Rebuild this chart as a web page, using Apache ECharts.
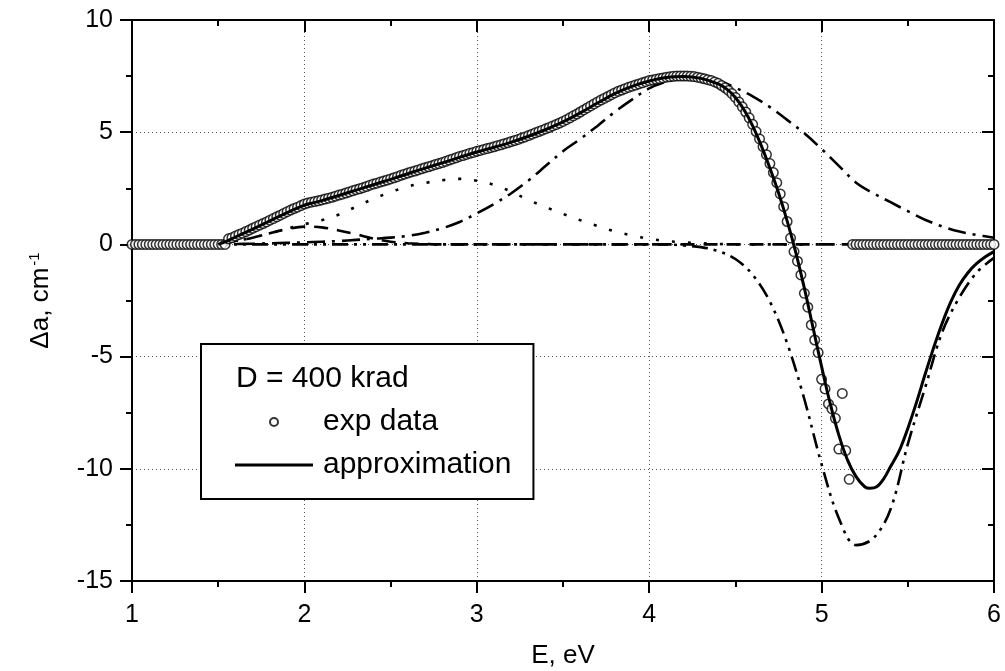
<!DOCTYPE html>
<html>
<head>
<meta charset="utf-8">
<script src="https://cdn.jsdelivr.net/npm/echarts@6/dist/echarts.min.js"></script>
<style>
  html, body { margin: 0; padding: 0; background: #fff; }
  #chart { width: 1005px; height: 671px; }
</style>
</head>
<body>
<div id="chart"></div>
<script>
// ---- data ----
// experimental points, E from 1.00 eV with 0.02 eV step
const expStart = 1.0, expStep = 0.02;
const expY = [
  0, 0, 0, 0, 0, 0, 0, 0, 0, 0,                                   // 1.00
  0, 0, 0, 0, 0, 0, 0, 0, 0, 0,                                   // 1.20
  0, 0, 0, 0, 0, 0, 0, 0, 0.25, 0.30,                             // 1.40
  0.37, 0.44, 0.50, 0.57, 0.64, 0.72, 0.79, 0.86, 0.93, 1.00,     // 1.60
  1.08, 1.15, 1.23, 1.30, 1.38, 1.46, 1.53, 1.60, 1.66, 1.73,     // 1.80
  1.80, 1.85, 1.88, 1.91, 1.94, 1.98, 2.02, 2.06, 2.10, 2.15,     // 2.00
  2.20, 2.24, 2.29, 2.34, 2.39, 2.44, 2.48, 2.53, 2.58, 2.64,     // 2.20
  2.69, 2.73, 2.78, 2.82, 2.87, 2.92, 2.97, 3.02, 3.08, 3.13,     // 2.40
  3.18, 3.23, 3.27, 3.32, 3.37, 3.42, 3.46, 3.51, 3.56, 3.60,     // 2.60
  3.65, 3.70, 3.76, 3.81, 3.86, 3.92, 3.96, 4.01, 4.06, 4.10,     // 2.80
  4.15, 4.19, 4.23, 4.27, 4.31, 4.35, 4.40, 4.44, 4.49, 4.53,     // 3.00
  4.58, 4.63, 4.68, 4.74, 4.79, 4.85, 4.91, 4.97, 5.03, 5.09,     // 3.20
  5.15, 5.21, 5.28, 5.34, 5.41, 5.48, 5.56, 5.64, 5.73, 5.81,     // 3.40
  5.90, 5.99, 6.08, 6.17, 6.26, 6.35, 6.43, 6.51, 6.59, 6.67,     // 3.60
  6.75, 6.82, 6.88, 6.94, 7.00, 7.05, 7.10, 7.15, 7.20, 7.25,     // 3.80
  7.30, 7.33, 7.36, 7.39, 7.42, 7.45, 7.47, 7.49, 7.50, 7.50,     // 4.00
  7.50, 7.50, 7.49, 7.48, 7.45, 7.42, 7.38, 7.34, 7.30, 7.24,     // 4.20
  7.18, 7.08, 6.98, 6.86, 6.72, 6.55, 6.35, 6.13, 5.90, 5.64,     // 4.40
  5.35, 5.03, 4.70, 4.36, 4.00, 3.60, 3.20, 2.75, 2.25, 1.68,     // 4.60
  1.02, 0.28, -0.32, -0.75, -1.36, -2.18, -2.80, -3.59, -4.26, -4.82, // 4.80
  -6.01, -6.44, -7.11, -7.33, -7.75, -9.12, -6.64, -9.19, -10.47, 0,  // 5.00
  0, 0, 0, 0, 0, 0, 0, 0, 0, 0,                                   // 5.20
  0, 0, 0, 0, 0, 0, 0, 0, 0, 0,                                   // 5.40
  0, 0, 0, 0, 0, 0, 0, 0, 0, 0,                                   // 5.60
  0, 0, 0, 0, 0, 0, 0, 0, 0, 0,                                   // 5.80
  0                                                               // 6.00
];

// approximation (sum of the bands)
const approxX = [1.50, 1.55, 1.60, 1.70, 1.80, 1.90, 2.00, 2.05, 2.10, 2.20,
  2.30, 2.40, 2.50, 2.60, 2.70, 2.80, 2.90, 3.00, 3.10, 3.20,
  3.30, 3.40, 3.50, 3.60, 3.70, 3.80, 3.90, 4.00, 4.10, 4.20,
  4.30, 4.40, 4.45, 4.50, 4.55, 4.60, 4.65, 4.70, 4.75, 4.80,
  4.85, 4.90, 4.95, 5.00, 5.05, 5.10, 5.15, 5.20, 5.25, 5.28,
  5.32, 5.36, 5.40, 5.45, 5.50, 5.55, 5.60, 5.65, 5.70, 5.75,
  5.80, 5.85, 5.90, 5.95, 6.00];
const approxY = [0.00, 0.15, 0.33, 0.68, 1.05, 1.42, 1.75, 1.85, 1.95, 2.18,
  2.42, 2.66, 2.90, 3.15, 3.40, 3.63, 3.88, 4.12, 4.33, 4.56,
  4.82, 5.12, 5.46, 5.86, 6.30, 6.72, 7.04, 7.28, 7.44, 7.48,
  7.40, 7.15, 6.92, 6.55, 6.00, 5.28, 4.40, 3.40, 2.30, 1.05,
  -0.35, -1.95, -3.70, -5.45, -7.10, -8.50, -9.60, -10.35, -10.80, -10.87,
  -10.80, -10.45, -9.90, -9.20, -8.20, -7.05, -5.80, -4.60, -3.50, -2.55,
  -1.80, -1.25, -0.85, -0.55, -0.32];

// individual bands, E from 1.0 eV with 0.1 eV step
const bandStart = 1.0, bandStep = 0.1;
const bandDashed = [0, 0, 0, 0, 0, 0.02, 0.15, 0.30, 0.50, 0.68,
  0.79, 0.76, 0.62, 0.45, 0.26, 0.12, 0.05, 0.02, 0, 0,
  0, 0, 0, 0, 0, 0, 0, 0, 0, 0,
  0, 0, 0, 0, 0, 0, 0, 0, 0, 0,
  0, 0, 0, 0, 0, 0, 0, 0, 0, 0, 0];
const bandDotted = [0, 0, 0, 0, 0, 0.05, 0.15, 0.30, 0.50, 0.70,
  0.90, 1.08, 1.33, 1.68, 2.03, 2.33, 2.58, 2.74, 2.86, 2.92,
  2.84, 2.65, 2.35, 1.98, 1.66, 1.36, 1.08, 0.82, 0.58, 0.40,
  0.25, 0.15, 0.09, 0.05, 0.02, 0, 0, 0, 0, 0,
  0, 0, 0, 0, 0, 0, 0, 0, 0, 0, 0];
const bandDashDot = [0, 0, 0, 0, 0, 0.01, 0.02, 0.03, 0.05, 0.07,
  0.09, 0.12, 0.15, 0.20, 0.25, 0.30, 0.38, 0.52, 0.72, 1.00,
  1.38, 1.80, 2.28, 2.85, 3.50, 4.15, 4.70, 5.28, 5.90, 6.45,
  6.95, 7.25, 7.42, 7.48, 7.32, 6.98, 6.60, 6.12, 5.55, 4.95,
  4.25, 3.50, 2.75, 2.28, 1.88, 1.48, 1.10, 0.80, 0.57, 0.42, 0.30];
const bandDashDotDot = [0, 0, 0, 0, 0, 0, 0, 0, 0, 0,
  0, 0, 0, 0, 0, 0, 0, 0, 0, 0,
  0, 0, 0, 0, 0, 0, 0, 0, 0, 0,
  0, 0, -0.05, -0.12, -0.30, -0.65, -1.35, -2.55, -4.40, -6.90,
  -9.80, -12.20, -13.40, -13.10, -11.80, -8.90, -6.40, -3.90, -2.35, -1.25, -0.60];

const xTicks = { min: 1, max: 6, interval: 1 };
const yTicks = { min: -15, max: 10, interval: 5 };

// ---- helpers ----
const FONT = "'Liberation Sans', Arial, Helvetica, sans-serif";
const pairs = (start, step, ys) => ys.map((y, i) => [+(start + i * step).toFixed(3), y]);
const zip = (xs, ys) => xs.map((x, i) => [x, ys[i]]);

function band(name, data, dash) {
  return {
    name: name,
    type: 'line',
    data: data,
    showSymbol: false,
    smooth: 0.35,
    z: 2,
    lineStyle: { color: '#000', width: 2.6, type: dash, cap: 'butt' },
    silent: true
  };
}

const black = { color: '#000', width: 2 };

const chart = echarts.init(document.getElementById('chart'), null, { renderer: 'canvas' });
chart.setOption({
  animation: false,
  backgroundColor: '#fff',
  textStyle: { fontFamily: FONT },
  grid: { left: 132, right: 11, top: 20, bottom: 90, containLabel: false, outerBoundsMode: 'none' },
  xAxis: [
    {
      type: 'value', position: 'bottom',
      min: xTicks.min, max: xTicks.max, interval: xTicks.interval,
      axisLine: { onZero: false, lineStyle: black },
      axisTick: { inside: false, length: 12, lineStyle: black },
      minorTick: { show: true, splitNumber: 2, length: 6, lineStyle: black },
      splitLine: { show: true, lineStyle: { color: '#555', width: 1, type: [1, 3] } },
      axisLabel: { fontSize: 25, color: '#000', margin: 22, fontFamily: FONT },
      name: 'E, eV', nameLocation: 'middle', nameGap: 62,
      nameTextStyle: { fontSize: 26, color: '#000', fontFamily: FONT }
    },
    {
      type: 'value', position: 'top',
      min: xTicks.min, max: xTicks.max, interval: xTicks.interval,
      axisLine: { onZero: false, lineStyle: black },
      axisTick: { inside: true, length: 12, lineStyle: black },
      minorTick: { show: true, splitNumber: 2, length: 6, lineStyle: black },
      splitLine: { show: false },
      axisLabel: { show: false }
    }
  ],
  yAxis: [
    {
      type: 'value', position: 'left',
      min: yTicks.min, max: yTicks.max, interval: yTicks.interval,
      axisLine: { onZero: false, lineStyle: black },
      axisTick: { inside: false, length: 12, lineStyle: black },
      minorTick: { show: true, splitNumber: 2, length: 6, lineStyle: black },
      splitLine: { show: true, lineStyle: { color: '#555', width: 1, type: [1, 3] } },
      axisLabel: { fontSize: 25, color: '#000', margin: 19, fontFamily: FONT },
      name: 'Δa, cm{sup|-1}', nameLocation: 'middle', nameGap: 78,
      nameTextStyle: {
        fontSize: 26, color: '#000', fontFamily: FONT,
        rich: { sup: { fontSize: 15, color: '#000', fontFamily: FONT, verticalAlign: 'top', padding: [0, 0, 12, 2] } }
      }
    },
    {
      type: 'value', position: 'right',
      min: yTicks.min, max: yTicks.max, interval: yTicks.interval,
      axisLine: { onZero: false, lineStyle: black },
      axisTick: { inside: true, length: 12, lineStyle: black },
      minorTick: { show: true, splitNumber: 2, length: 6, lineStyle: black },
      splitLine: { show: false },
      axisLabel: { show: false }
    }
  ],
  legend: {
    data: [
      { name: 'exp data' },
      { name: 'approximation', icon: 'path://M0,0H78V3H0Z', itemStyle: { color: '#000' } }
    ],
    orient: 'vertical',
    left: 201, top: 344,
    itemWidth: 78, itemHeight: 8, itemGap: 13,
    padding: [63, 22, 19, 34],
    backgroundColor: '#fff',
    borderColor: '#000', borderWidth: 2, borderRadius: 0,
    selectedMode: false,
    textStyle: { fontSize: 30, color: '#000', fontFamily: FONT, padding: [0, 0, 0, 5] }
  },
  graphic: [{
    type: 'text', left: 236, top: 364, z: 100,
    style: { text: 'D = 400 krad', fontSize: 30, fontFamily: FONT, fill: '#000' }
  }],
  series: [
    band('band 1', pairs(bandStart, bandStep, bandDashed), [14, 9]),
    band('band 2', pairs(bandStart, bandStep, bandDotted), [3, 13]),
    band('band 3', pairs(bandStart, bandStep, bandDashDot), [18, 7, 3, 7]),
    band('band 4', pairs(bandStart, bandStep, bandDashDotDot), [16, 6, 3, 6, 3, 6]),
    {
      name: 'exp data',
      type: 'scatter',
      data: pairs(expStart, expStep, expY),
      symbol: 'circle',
      symbolSize: 9.5,
      z: 3,
      itemStyle: { color: '#fff', borderColor: '#000', borderWidth: 1.5 }
    },
    {
      name: 'approximation',
      type: 'line',
      data: zip(approxX, approxY),
      showSymbol: false,
      symbol: 'none',
      smooth: 0.35,
      z: 4,
      itemStyle: { color: '#000' },
      lineStyle: { color: '#000', width: 3 }
    }
  ]
});
</script>
</body>
</html>
